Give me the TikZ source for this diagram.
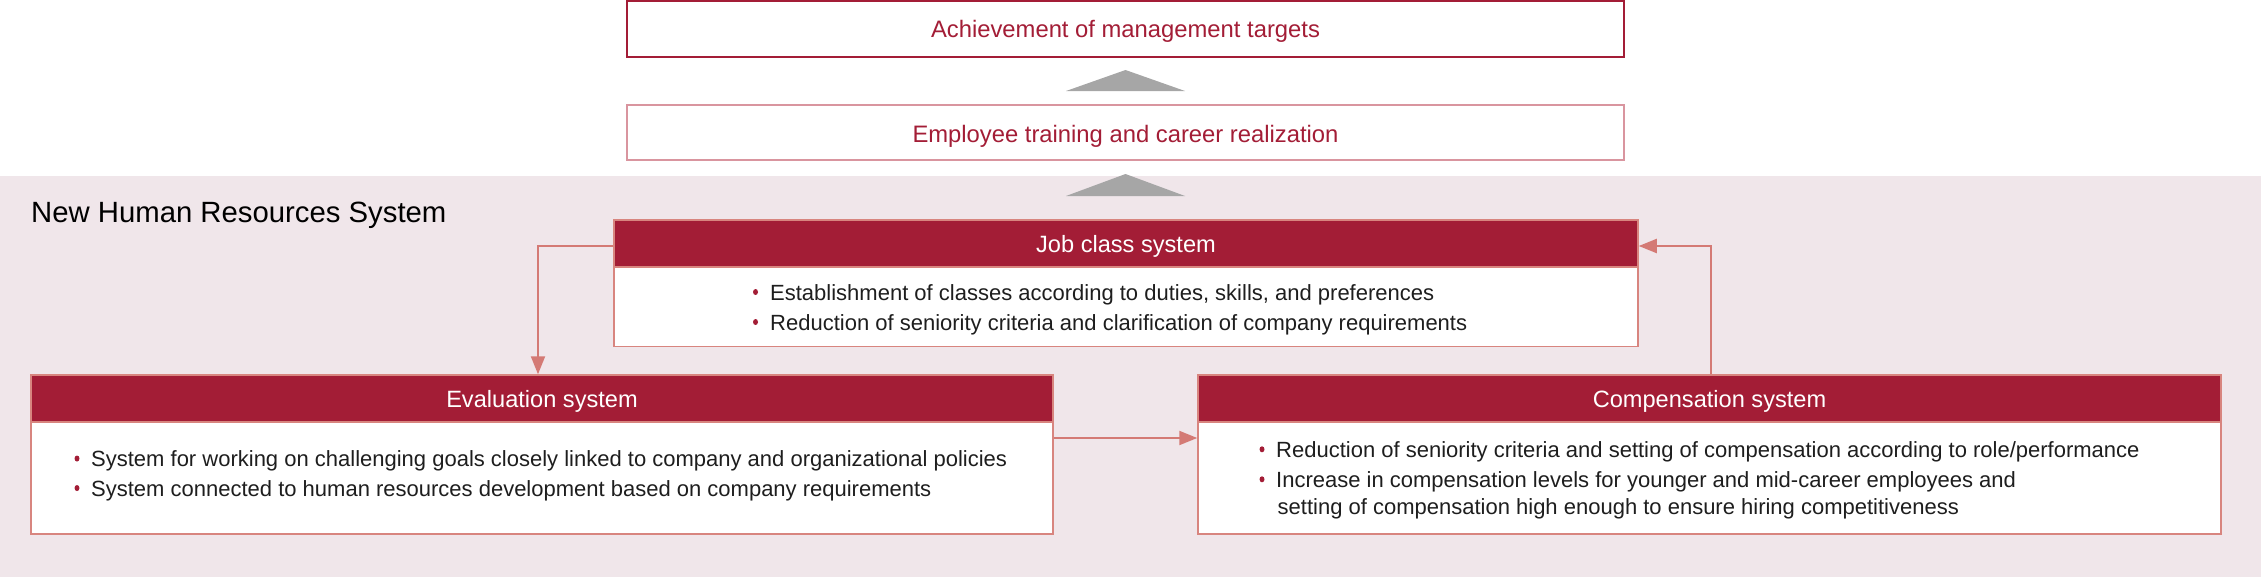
\documentclass[tikz,border=0pt]{standalone}
\usepackage{fontspec}
\setmainfont{Liberation Sans}
\usetikzlibrary{arrows.meta,shapes.geometric}
\definecolor{hrred}{HTML}{A31D36}
\definecolor{hrbg}{HTML}{F0E6EA}
\definecolor{hrline}{HTML}{D47A75}
\definecolor{hrborder}{HTML}{D8857F}
\definecolor{hrpink}{HTML}{D9959F}
\definecolor{hrgray}{HTML}{A6A6A6}
\definecolor{hrtext}{HTML}{1E1E1E}
\begin{document}
\begin{tikzpicture}[x=1pt,y=-1pt,
  topbox/.style={draw=hrred, line width=1.6pt, fill=white, minimum width=997pt, minimum height=56pt, inner sep=0pt},
  midbox/.style={topbox, draw=hrpink, minimum height=55pt},
  toptext/.style={anchor=base, inner sep=0pt, text=hrred, font=\fontsize{23.8}{28}\selectfont},
  headbox/.style={draw=hrborder, line width=1.5pt, fill=hrred, inner sep=0pt, minimum height=47pt},
  bodybox/.style={draw=hrborder, line width=1.5pt, fill=white, inner sep=0pt},
  headtext/.style={anchor=base, inner sep=0pt, text=white, font=\fontsize{23.6}{28}\selectfont},
  bodytext/.style={anchor=base west, inner sep=0pt, text=hrtext, font=\fontsize{22}{26}\selectfont},
  dot/.style={ellipse, fill=hrred, inner sep=0pt, minimum width=5pt, minimum height=6pt},
  conn/.style={draw=hrline, line width=2pt, -{Triangle[length=18pt, width=14pt]}},
  tri/.style={fill=hrgray}
]
\useasboundingbox (0,0) rectangle (2262,578);
% background panel
\fill[hrbg] (0,176) rectangle (2261,577);

% top boxes
\node[topbox] (ach) at (1125.5,29) {};
\node[toptext] (achT) at (1125.5,37.3) {Achievement of management targets};
\node[midbox] (emp) at (1125.5,132.5) {};
\node[toptext] (empT) at (1125.5,142.7) {Employee training and career realization};

% gray triangles
\fill[tri] (1066,91) -- (1125.5,70) -- (1185,91) -- cycle;
\fill[tri] (1066,196) -- (1125.5,174) -- (1185,196) -- cycle;

% title
\node[anchor=base west, inner sep=0pt, text=black, font=\fontsize{29.3}{34}\selectfont] (title) at (31,222) {New Human Resources System};

% Job class system
\node[bodybox, minimum width=1024pt, minimum height=80pt] (jobB) at (1126,306.5) {};
\node[headbox, minimum width=1024pt] (jobH) at (1126,243.5) {};
\node[headtext] (jobT) at (1126,252.3) {Job class system};
\node[dot] (jb1) at (755.5,292) {};
\node[bodytext] (jl1) at (770,300) {Establishment of classes according to duties, skills, and preferences};
\node[dot] (jb2) at (755.5,322) {};
\node[bodytext] (jl2) at (770,330) {Reduction of seniority criteria and clarification of company requirements};

% Evaluation system
\node[bodybox, minimum width=1022pt, minimum height=112pt] (evB) at (542,478) {};
\node[headbox, minimum width=1022pt] (evH) at (542,398.5) {};
\node[headtext] (evT) at (542,407.3) {Evaluation system};
\node[dot] (eb1) at (77,458.5) {};
\node[bodytext] (el1) at (91,466.7) {System for working on challenging goals closely linked to company and organizational policies};
\node[dot] (eb2) at (77,488) {};
\node[bodytext] (el2) at (91,496) {System connected to human resources development based on company requirements};

% Compensation system
\node[bodybox, minimum width=1023pt, minimum height=112pt] (coB) at (1709.5,478) {};
\node[headbox, minimum width=1023pt] (coH) at (1709.5,398.5) {};
\node[headtext] (coT) at (1709.5,407.3) {Compensation system};
\node[dot] (cb1) at (1262,449.3) {};
\node[bodytext] (cl1) at (1276,457.3) {Reduction of seniority criteria and setting of compensation according to role/performance};
\node[dot] (cb2) at (1262,479.3) {};
\node[bodytext] (cl2) at (1276,487.3) {Increase in compensation levels for younger and mid-career employees and};
\node[bodytext] (cl3) at (1277.5,514) {setting of compensation high enough to ensure hiring competitiveness};

% connectors
\coordinate (k1) at (538,246);
\coordinate (k2) at (0,438);
\coordinate (k3) at (1711,246);
\draw[conn] (jobH.west |- k1) -- (k1) -- (k1 |- evH.north);
\draw[conn] (evB.east |- k2) -- (coB.west |- k2);
\draw[conn] (k3 |- coH.north) -- (k3) -- (jobH.east |- k3);
\end{tikzpicture}
\end{document}
